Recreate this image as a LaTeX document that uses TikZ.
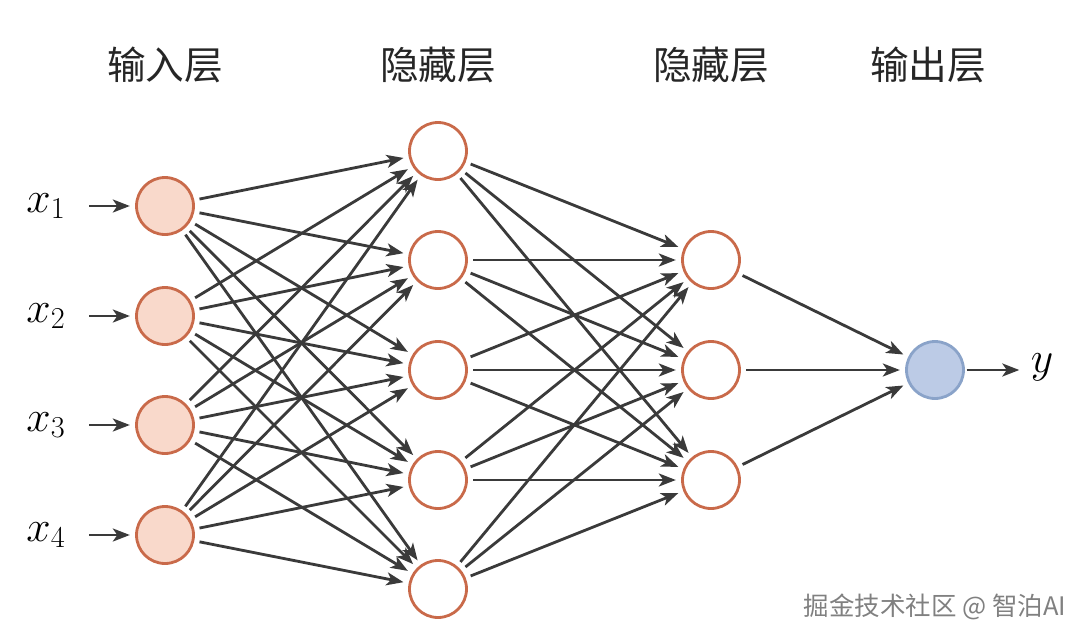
\documentclass[tikz,border=0pt]{standalone}
\usepackage{fontspec}
\newfontfamily\cjk{Noto Sans CJK SC}
\usetikzlibrary{arrows.meta}

\definecolor{infill}{HTML}{F9D9CB}
\definecolor{nodeedge}{HTML}{C96A4A}
\definecolor{outfill}{HTML}{BCCBE6}
\definecolor{outedge}{HTML}{8AA3C9}
\definecolor{arrowgray}{HTML}{3A3A3A}

\begin{document}
\begin{tikzpicture}[
    x=0.02cm, y=-0.02cm,
    neuron/.style={circle, draw=nodeedge, line width=1.6pt, minimum size=1.14cm, inner sep=0pt, fill=white},
    in_neuron/.style={neuron, fill=infill},
    out_neuron/.style={neuron, draw=outedge, fill=outfill},
    conn/.style={-{Stealth[length=3.4mm, width=2.6mm, inset=0.9mm]}, line width=1.6pt, color=arrowgray, shorten <=3pt, shorten >=3pt},
    title/.style={font=\cjk\fontsize{22}{26}\selectfont, text=black!85},
    var/.style={font=\fontsize{23}{27}\selectfont}
]
\useasboundingbox (0,0) rectangle (1080,643);

% layer titles
\node[title] (t1) at (165,65) {输入层};
\node[title] (t2) at (438,65) {隐藏层};
\node[title] (t3) at (711,65) {隐藏层};
\node[title] (t4) at (928,65) {输出层};

% neurons
\foreach \i/\y in {1/206, 2/316, 3/425, 4/535}
    \node[in_neuron] (x\i) at (165,\y) {};
\foreach \j/\y in {1/151, 2/260, 3/370, 4/480, 5/589}
    \node[neuron] (a\j) at (438,\y) {};
\foreach \k/\y in {1/260, 2/370, 3/480}
    \node[neuron] (b\k) at (711,\y) {};
\node[out_neuron] (o) at (935,370) {};

% inputs and output
\foreach \i/\y in {1/206, 2/316, 3/425, 4/535} {
    \node[var] (lx\i) at (46,\y) {$x_{\i}$};
    \draw[conn, shorten <=10pt] (lx\i) -- (x\i);
}
\node[var] (ly) at (1042,367) {$y$};
\draw[conn, shorten <=1pt, shorten >=3pt] (o.east) -- (o.east -| ly.west);

% connections
\foreach \i in {1,...,4}
    \foreach \j in {1,...,5}
        \draw[conn] (x\i) -- (a\j);
\foreach \j in {1,...,5}
    \foreach \k in {1,...,3}
        \draw[conn] (a\j) -- (b\k);
\foreach \k in {1,...,3}
    \draw[conn] (b\k) -- (o);

\node[font=\cjk\fontsize{14.5}{17}\selectfont, text=black!50] (wm) at (935,607) {掘金技术社区 @ 智泊AI};
\end{tikzpicture}
\end{document}
